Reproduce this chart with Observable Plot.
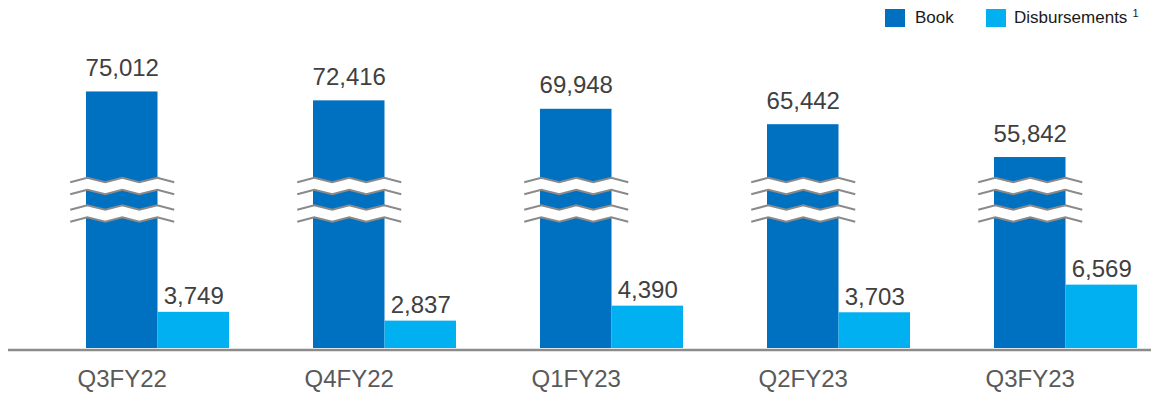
<!DOCTYPE html>
<html><head><meta charset="utf-8">
<script src="https://cdn.jsdelivr.net/npm/d3@7"></script>
<script src="https://cdn.jsdelivr.net/npm/@observablehq/plot@0.6"></script>
<style>
body{margin:0;background:#fff;font-family:"Liberation Sans",Arial,sans-serif;}
#wrap{position:relative;width:1151px;height:393px;overflow:hidden;}
#legend{position:absolute;top:0;left:0;width:1151px;height:40px;}
.sw{position:absolute;width:20px;height:18px;top:9px;}
.lt{position:absolute;top:8px;height:20px;font-size:17px;line-height:20px;color:#1a1a1a;white-space:nowrap;}
.lt .sup{font-size:11px;line-height:0;vertical-align:6px;margin-left:5px;}
#chart{position:absolute;top:0;left:0;}
</style></head><body>
<div id="wrap"><div id="chart"></div><div id="legend"></div></div>
<script>
// ---- data ----
const quarters = ["Q3FY22", "Q4FY22", "Q1FY23", "Q2FY23", "Q3FY23"];
const bookValues = [75012, 72416, 69948, 65442, 55842];
const disbursementValues = [3749, 2837, 4390, 3703, 6569];
const seriesNames = ["Book", "Disbursements"];
const seriesColors = ["#0070C0", "#00B0F0"];

// ---- chart config ----
const W = 1151, H = 393;
const bookScale = 0.3545;            // broken axis: Book bars drawn on a compressed scale
const breakCenters = [16845, 13994]; // y-units of the two axis-break bands
const half = 71.5;                    // half of the bar-pair width (px)

const bookRows = quarters.map((q, i) => ({quarter: q, value: bookValues[i], y: bookValues[i] * bookScale}));
const disbRows = quarters.map((q, i) => ({quarter: q, value: disbursementValues[i], y: disbursementValues[i]}));
const breakRows = quarters.flatMap(q => breakCenters.map(b => ({quarter: q, y: b})));

const zigzag = {
  draw(ctx) {
    const xs = [-52, -35, -17, 0, 17, 35, 52];
    xs.forEach((x, i) => {
      const y = i % 2 === 0 ? 2.3 : -2.3;
      if (i === 0) ctx.moveTo(x, y); else ctx.lineTo(x, y);
    });
  }
};

const fmt = d3.format(",");
const font = "Liberation Sans, Arial, sans-serif";
const breakOpts = {x: "quarter", y: "y", dx: -half / 2, symbol: zigzag, fill: "none"};

const chart = Plot.plot({
  width: W, height: H,
  marginLeft: 8, marginRight: 0, marginTop: 20, marginBottom: 45,
  style: {fontFamily: font, background: "transparent"},
  x: {domain: quarters, paddingInner: 0.3714, paddingOuter: 0.1978, align: 0.85, label: null},
  y: {domain: [0, 34000], axis: null},
  marks: [
    Plot.barY(bookRows, {x: "quarter", y: "y", fill: seriesColors[0], insetRight: half, insetLeft: 0}),
    Plot.barY(disbRows, {x: "quarter", y: "y", fill: seriesColors[1], insetLeft: half, insetRight: 0}),
    Plot.dot(breakRows, {...breakOpts, stroke: "white", strokeWidth: 11}),
    Plot.dot(breakRows, {...breakOpts, stroke: "#8a8a8a", strokeWidth: 2, dy: -6}),
    Plot.dot(breakRows, {...breakOpts, stroke: "#8a8a8a", strokeWidth: 2, dy: 6}),
    Plot.text(bookRows, {x: "quarter", y: "y", text: d => fmt(d.value), dx: -half / 2, dy: -16, lineAnchor: "bottom", fontSize: 24, fill: "#404040"}),
    Plot.text(disbRows, {x: "quarter", y: "y", text: d => fmt(d.value), dx: half / 2, dy: -8, lineAnchor: "bottom", fontSize: 24, fill: "#404040"}),
    Plot.ruleY([0], {stroke: "#8c8c8c", strokeWidth: 2.5, dy: 1.5}),
    Plot.axisX({tickSize: 0, tickPadding: 21, dx: -half / 2, fontSize: 24, fill: "#595959", label: null})
  ]
});
document.getElementById("chart").appendChild(chart);

// ---- legend ----
const legend = document.getElementById("legend");
const legendPos = [{sw: 885, tx: 915}, {sw: 986, tx: 1014}];
seriesNames.forEach((name, i) => {
  const s = document.createElement("div");
  s.className = "sw"; s.style.left = legendPos[i].sw + "px"; s.style.background = seriesColors[i];
  legend.appendChild(s);
  const t = document.createElement("div");
  t.className = "lt"; t.style.left = legendPos[i].tx + "px";
  t.textContent = name;
  if (name === "Disbursements") { const sup = document.createElement("span"); sup.className = "sup"; sup.textContent = "1"; t.appendChild(sup); }
  legend.appendChild(t);
});
</script>
</body></html>
